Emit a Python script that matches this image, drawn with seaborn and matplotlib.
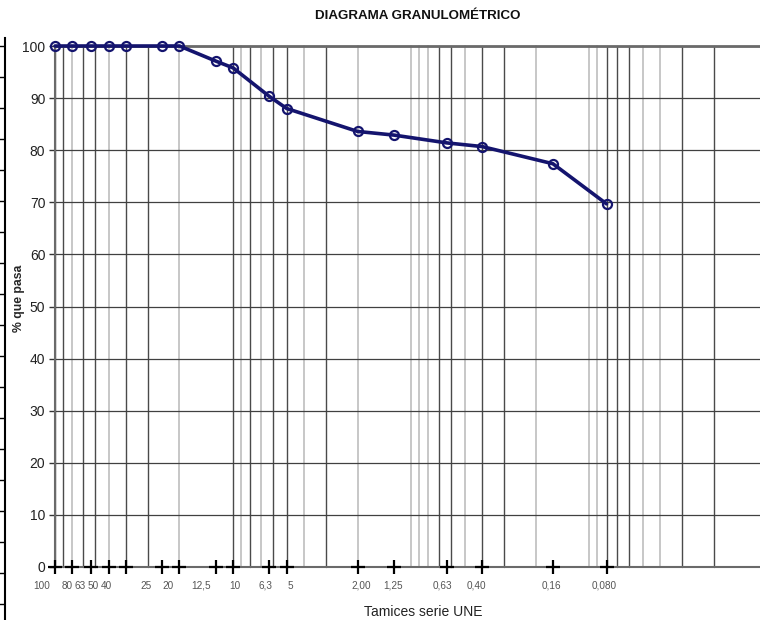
import seaborn as sns
import matplotlib.pyplot as plt
import matplotlib.ticker as mticker
import matplotlib.transforms as mtransforms
from matplotlib import font_manager
import numpy as np
import pandas as pd

# --- datos ---
tamices = [100, 80, 63, 50, 40, 25, 20, 12.5, 10, 6.3, 5, 2.00, 1.25, 0.63, 0.40, 0.16, 0.080]
etiquetas = ['100', '80', '63', '50', '40', '25', '20', '12,5', '10', '6,3', '5',
             '2,00', '1,25', '0,63', '0,40', '0,16', '0,080']
pasa = [100, 100, 100, 100, 100, 100, 100, 97.1, 95.8, 90.4, 88.0,
        83.6, 82.9, 81.4, 80.7, 77.4, 69.7]

# lineas de rejilla claras (el resto oscuras)
grid_claras = [80, 50, 20, 9, 7, 4, 2, 1, 0.9, 0.8, 0.5, 0.2, 0.1, 0.09, 0.05, 0.04]
# desplazamiento horizontal (px) de cada etiqueta, como en Excel
desp_etiq = [-13.5, -5.5, -11, -15, -19.5, -16.5, -11, -14.5, 1.5, -3.5, 4,
             3.5, -1, -4.5, -5.5, -1.5, -2]

df = pd.DataFrame({'tamiz': tamices, 'pasa': pasa})

sns.set_theme(style='white')
plt.rcParams['font.family'] = ['Liberation Sans', 'DejaVu Sans']

# fuente estrecha para las etiquetas de tamices, si existe
nombres = {f.name for f in font_manager.fontManager.ttflist}
if 'Liberation Sans Narrow' in nombres:
    fam_tick, size_tick = 'Liberation Sans Narrow', 8.4
else:
    fam_tick, size_tick = 'Liberation Sans', 7.2

W, H = 760, 620
fig = plt.figure(figsize=(W / 100, H / 100), dpi=100)
ax = fig.add_axes([55 / W, 53 / H, 705 / W, 521 / H])

# rejilla vertical logaritmica
ax.set_xscale('log')
ax.set_xlim(100, 0.011)
ax.set_ylim(0, 100)
for d in [0.01, 0.1, 1, 10]:
    for s in range(1, 10):
        v = round(d * s, 4)
        if v < 0.011 or v > 100:
            continue
        clara = any(np.isclose(v, c) for c in grid_claras)
        ax.axvline(v, color='#bdbdbd' if clara else '#4a4a4a',
                   lw=1.2 if clara else 1.0, zorder=0)
ax.axvline(100, color='#4a4a4a', lw=1.0, zorder=0)

# rejilla horizontal
ax.yaxis.set_major_locator(mticker.MultipleLocator(10))
ax.grid(axis='y', color='#404040', lw=0.9)
ax.set_axisbelow(True)

# curva granulometrica
sns.lineplot(data=df, x='tamiz', y='pasa', ax=ax, color='#14146e', lw=2.6,
             marker='o', markersize=6.5, markerfacecolor='none',
             markeredgecolor='#14146e', markeredgewidth=1.6, zorder=5)
for ln in ax.lines:
    ln.set_clip_on(False)

# cruces sobre el eje
ax.plot(tamices, [0] * len(tamices), ls='none', marker='+', color='black',
        ms=10, mew=1.6, clip_on=False, zorder=6)

ax.set_xticks(tamices)
ax.set_xticklabels(etiquetas, family=fam_tick)
ax.xaxis.set_minor_locator(mticker.NullLocator())
ax.tick_params(axis='x', length=0, pad=10, labelsize=size_tick, labelcolor='#555555')
ax.tick_params(axis='y', length=4, width=1, color='#333333', left=True,
               pad=3, labelsize=10, labelcolor='#222222')
for lab, dx in zip(ax.get_xticklabels(), desp_etiq):
    lab.set_transform(lab.get_transform() +
                      mtransforms.ScaledTranslation(dx / 100, 0, fig.dpi_scale_trans))

for side in ['left', 'top', 'bottom']:
    ax.spines[side].set_color('#6a6a6a')
ax.spines['top'].set_linewidth(2)
ax.spines['left'].set_linewidth(1.5)
ax.spines['bottom'].set_linewidth(1.5)
ax.spines['right'].set_visible(False)

ax.set_xlabel('')
ax.set_ylabel('% que pasa', fontsize=8.8, fontweight='bold')
ax.yaxis.set_label_coords(-30 / 705, 0.515)

fig.text(418 / W, 1 - 16 / H, 'DIAGRAMA GRANULOMÉTRICO', ha='center', va='center',
         fontsize=9.6, fontweight='bold', color='#111111')
fig.text(423 / W, 1 - 612 / H, 'Tamices serie UNE', ha='center', va='center',
         fontsize=10, color='#222222')

# borde del grafico vecino recortado a la izquierda
axl = fig.add_axes([5 / W, 0, 0.001, 582 / H])
axl.set_ylim(0, 582)
axl.set_xticks([])
axl.set_yticks(np.arange(16, 582, 31))
axl.set_yticklabels([])
axl.tick_params(axis='y', length=5, width=1, color='black', left=True)
for side in ['right', 'top', 'bottom']:
    axl.spines[side].set_visible(False)
axl.spines['left'].set_color('black')
axl.spines['left'].set_linewidth(1.5)
axl.patch.set_alpha(0)

fig.savefig('out.png', dpi=100)
